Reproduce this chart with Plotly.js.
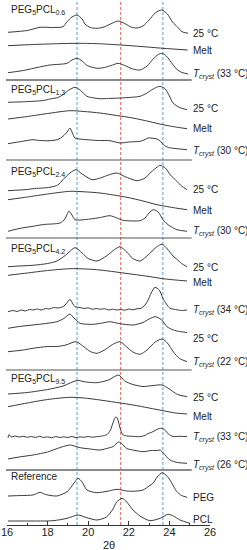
<!DOCTYPE html>
<html>
<head>
<meta charset="utf-8">
<script src="https://cdn.plot.ly/plotly-3.0.1.min.js"></script>
<style>
html,body{margin:0;padding:0;background:#fff;}
#chart{width:247px;height:550px;}
</style>
</head>
<body>
<div id="chart"></div>
<script>
// ---- Data (2θ in degrees, intensity in arbitrary units) ----
// PEG5PCL0.6
const x_06_25 = [16.05,17.0,17.63,18.3,18.76,18.96,19.2,19.45,19.7,19.84,20.1,20.43,20.73,21.1,21.47,21.8,22.1,22.4,22.7,23.0,23.3,23.62,23.9,24.15,24.4,24.62,24.92];
const i_06_25 = [1.7,3.5,6.7,6.5,7.3,12.3,17,19,15,10,6.5,5.7,6.7,10,13,10.5,7,6,8,14,21,24,20,12,7,2.3,0.7];
const x_06_melt = [16.05,17.3,18.5,19.45,20.5,21.6,22.6,23.68,24.9];
const i_06_melt = [5.3,6.5,7.3,7.7,7.3,6,4.5,2.7,1];
const x_06_t33 = [16.05,16.8,17.6,18.12,18.96,19.2,19.45,19.7,19.95,20.43,20.8,21.2,21.47,21.8,22.2,22.55,22.9,23.2,23.45,23.64,23.85,24.15,24.4,24.62,24.92];
const i_06_t33 = [2.3,4.5,8,10,11.7,15,16.7,14,9.5,6.7,7.5,10,11.7,9.5,6,5,9,16,20.5,21.7,19,11,5,2.5,1];
// PEG5PCL1.3
const x_13_25 = [16.05,16.8,17.28,17.8,18.12,18.5,18.76,19.05,19.35,19.6,19.94,20.3,20.58,21.0,21.57,22.0,22.55,22.9,23.2,23.54,23.8,24.0,24.18,24.5,24.87];
const i_13_25 = [7.7,8.2,8.7,9.5,11,12.5,15.3,20,22.7,20,13.7,12,11.3,11.5,12,12.5,13.7,17,21,23.7,21,14,7,2.5,0.3];
const x_13_melt = [16.05,17.0,18.0,19.1,19.8,20.58,21.4,22.2,23.0,23.68,24.3,24.87];
const i_13_melt = [10,12.5,15.5,18.3,17.5,16,13.5,11,7.5,4.3,2,0.3];
const x_13_t30 = [16.05,16.7,17.28,17.6,18.12,18.5,18.76,18.96,19.1,19.22,19.35,19.7,19.94,20.5,21.07,21.57,22.0,22.55,22.8,22.95,23.2,23.39,23.55,23.72,23.95,24.37,24.87];
const i_13_t30 = [6.3,8.5,10.3,9.5,9.3,10.5,13.7,18,22,17,12,10.7,10.3,9.5,9.3,7,8,8.7,10.5,12,11.7,11,9,5,2.5,1.3,0.3];
// PEG5PCL2.4
const x_24_25 = [16.05,17.0,17.28,18.12,18.5,18.76,19.1,19.4,19.7,20.19,20.6,21.0,21.42,21.8,22.4,22.8,23.1,23.4,23.54,23.8,24.05,24.37,24.6,24.87];
const i_24_25 = [0.3,1.5,2.3,3.7,6,11.3,18,21.3,17,11.3,13,16,18,14.5,10.3,13,19,24,25.7,23,16,9.7,5,1.3];
const x_24_melt = [16.05,17.0,18.0,19.1,19.8,20.58,21.91,22.7,23.39,24.3,24.87];
const i_24_melt = [10.3,13,16,18.7,18.2,17,12.7,9,5.3,2,0.3];
const x_24_t30 = [16.05,16.6,17.28,17.8,18.61,18.85,19.05,19.2,19.35,20.09,20.6,21.07,21.42,21.71,22.55,22.8,23.0,23.2,23.45,23.68,23.95,24.37,24.87];
const i_24_t30 = [0.7,3.5,5.7,7.5,9,13,20.7,17,12.3,13,14.5,16.3,14,11.7,11.3,14,19,22.3,20,12.3,7,2.3,0.7];
// PEG5PCL4.2
const x_42_25 = [16.05,16.6,17.28,18.0,18.46,18.9,19.35,19.7,20.0,20.43,20.9,21.3,21.57,21.9,22.2,22.55,23.0,23.4,23.64,23.9,24.18,24.37,24.6,24.87];
const i_42_25 = [0.3,1,1.7,3.5,6,12,19.3,14,8.5,6,11,17.5,20.3,15,8.5,6,13,20.5,22.7,18,11,7.7,3.5,0.3];
const x_42_melt = [16.05,17.0,18.0,19.1,19.9,20.58,22.21,23.0,23.68,24.3,24.87];
const i_42_melt = [6.2,8.5,11,12.8,12.5,11.5,7.2,5,2.8,1.5,0.5];
const x_42_t34 = [16.05,16.3,16.5,16.7,16.9,17.1,17.28,17.5,17.7,17.9,18.1,18.3,18.5,18.76,18.95,19.1,19.25,19.35,19.6,19.8,20.0,20.2,20.4,20.6,20.8,21.0,21.2,21.4,21.6,21.8,22.0,22.2,22.4,22.6,22.8,22.95,23.1,23.29,23.5,23.68,23.85,24.03,24.3,24.6,24.87];
const i_42_t34 = [0.3,1.5,0.5,2,1,2.5,2,3,2,3.5,3,4.5,4,5.3,9,12.7,8,5.3,4.5,3.5,4.2,2.7,3.5,2.7,3.3,2,2.8,2,2.5,1.8,3,2.2,3.2,3.7,7,12,19,24.7,22,13.7,8,3.7,2.5,1.5,2];
const x_42_25b = [16.05,16.6,17.28,17.9,18.46,18.8,19.1,19.3,19.6,20.24,20.7,21.07,21.5,22.21,22.7,23.0,23.29,23.6,23.88,24.2,24.5,24.87];
const i_42_25b = [4.7,6.5,8,9.5,11.3,14.5,19,15,9.7,8.7,10,11.3,9.5,8,10.5,14,16.3,13.5,6.3,3,1.5,0.5];
const x_42_t22 = [16.05,16.8,17.28,18.0,18.46,18.9,19.4,19.8,20.1,20.43,20.8,21.2,21.57,21.9,22.2,22.55,22.9,23.3,23.64,23.9,24.2,24.5,24.87];
const i_42_t22 = [10.3,12,13.7,15.5,15.5,17,20.3,15,10.5,8.7,12,17.5,20.3,15,10,7.7,12,20,23,19,10,3.5,0.3];
// PEG5PCL9.5
const x_95_25 = [16.05,17.0,18.0,18.76,19.45,19.9,20.43,21.0,21.5,21.8,22.2,22.7,23.2,23.64,24.0,24.4,24.87];
const i_95_25 = [3,4.5,7.5,11,16.5,15,14.3,17,22,16,12.5,10.5,11.5,12,8,2.5,0.3];
const x_95_melt = [16.05,17.0,18.0,19.1,19.8,20.58,22.21,23.0,23.68,24.3,24.87];
const i_95_melt = [7.8,11.5,15,17.2,16.5,14.5,9.5,6.5,3.8,1.5,0.5];
const x_95_t33 = [16.05,16.1,16.2,16.4,16.6,16.8,17.0,17.2,17.4,17.6,17.8,18.0,18.2,18.4,18.6,18.8,19.0,19.2,19.4,19.6,19.8,20.0,20.2,20.4,20.6,20.8,20.93,21.1,21.2,21.3,21.37,21.45,21.57,21.7,21.9,22.2,22.5,22.8,22.95,23.1,23.3,23.5,23.64,23.8,23.95,24.18,24.5,24.87];
const i_95_t33 = [0.3,3.5,1,2,1,1.7,0.7,1.5,0.5,1.7,0.5,1.2,0.2,1.5,0.5,1.2,0.5,1.5,0.3,1.2,0.7,1.5,0.8,1.3,1.7,2.5,3.5,8,14,19.5,21.3,19,10,3.5,2,1.7,1.3,2.5,4.5,5.5,7.5,9.5,9.7,7.5,4,1.5,1.7,1.3];
const x_95_t26 = [16.05,16.6,17.28,18.0,18.27,18.7,19.1,19.4,19.6,20.1,20.58,21.0,21.22,21.5,21.65,21.9,22.2,22.7,23.1,23.4,23.54,23.7,24.03,24.4,24.87];
const i_95_t26 = [5,7,9,12,14,17,19,17.5,16.3,15,14,16,17.3,22,20.5,15.5,14,12.3,13.5,13.5,14,11,4,1.5,0.7];
// Reference
const x_ref_peg = [16.05,16.7,17.28,17.63,17.9,18.46,18.96,19.2,19.5,19.7,19.94,20.43,21.0,21.42,21.9,22.3,22.7,23.0,23.19,23.4,23.64,23.88,24.03,24.37,24.6,24.87];
const i_ref_peg = [2,2.5,3,5.7,3.5,2,6.3,12,19.7,16,8,5.3,7,8.7,7,6.8,8,12,14.7,21,25.3,22,18,6.3,2.5,0.7];
const x_ref_pcl = [16.05,17.0,18.27,18.96,19.5,19.9,20.43,20.9,21.22,21.4,21.67,21.9,22.21,22.55,23.04,23.54,23.93,24.2,24.52,25.01];
const i_ref_pcl = [3,3,3.3,5.7,9,6.5,4,7,15,22,25.7,22,14,8,3.3,5.7,9.7,8,4,0.7];

// Curve labels
const TC = t => '<i>T</i><sub><i>cryst</i></sub> (' + t + ' °C)';
const curveLabels = ["25 °C","Melt",TC(33),
  "25 °C","Melt",TC(30),
  "25 °C","Melt",TC(30),
  "25 °C","Melt",TC(34),"25 °C",TC(22),
  "25 °C","Melt",TC(33),TC(26),
  "PEG","PCL"];
const SUB = s => '<sub><span style="font-size:7px">' + s + '</span></sub>';
const panelTitles = ["PEG"+SUB("5")+"PCL"+SUB("0.6"),"PEG"+SUB("5")+"PCL"+SUB("1.3"),"PEG"+SUB("5")+"PCL"+SUB("2.4"),
  "PEG"+SUB("5")+"PCL"+SUB("4.2"),"PEG"+SUB("5")+"PCL"+SUB("9.5"),"Reference"];
const xTicks = [16,18,20,22,24,26];
const xTitle = '2θ';

// ---- Layout helpers (stacking offsets, label positions) ----
const series = [
  [x_06_25,i_06_25],[x_06_melt,i_06_melt],[x_06_t33,i_06_t33],
  [x_13_25,i_13_25],[x_13_melt,i_13_melt],[x_13_t30,i_13_t30],
  [x_24_25,i_24_25],[x_24_melt,i_24_melt],[x_24_t30,i_24_t30],
  [x_42_25,i_42_25],[x_42_melt,i_42_melt],[x_42_t34,i_42_t34],[x_42_25b,i_42_25b],[x_42_t22,i_42_t22],
  [x_95_25,i_95_25],[x_95_melt,i_95_melt],[x_95_t33,i_95_t33],[x_95_t26,i_95_t26],
  [x_ref_peg,i_ref_peg],[x_ref_pcl,i_ref_pcl]
];
const H = 525;
const baseRows = [34,51,75, 110,129,150, 191,210,232, 267,281.5,312,333,362, 397,414.5,438,464, 498,524];
const labelRows = [33.5,50,74, 108,128.5,151.5, 189.5,210,231.7, 267.5,282.5,310.5,338,362, 397.3,416,437,465, 497.7,519.5];
const titleRows = [9.5,90,171.5,248.5,378.5,476];
const sepRows = [80,160,238,370,470];
const sepThick = [true,false,false,false,true];

const traces = series.map((s,k)=>({
  x: s[0],
  y: s[1].map(v=>v + (H - baseRows[k])),
  type:'scatter', mode:'lines',
  line:{color:'#3a3a3a', width:1, shape:'spline', smoothing:0.7},
  hoverinfo:'skip', showlegend:false
}));

const font = {family:'"Liberation Sans", Arial, sans-serif', size:10, color:'#222'};
const annotations = [];
curveLabels.forEach((t,k)=>annotations.push({
  x:25.05, y:H-labelRows[k], xref:'x', yref:'y', text:t, showarrow:false,
  xanchor:'left', yanchor:'middle', font:font
}));
panelTitles.forEach((t,k)=>annotations.push({
  x:16.1, y:H-titleRows[k], xref:'x', yref:'y', text:t, showarrow:false,
  xanchor:'left', yanchor:'middle', font:font
}));
annotations.push({x:21.03, y:-20/H, xref:'x', yref:'paper', text:xTitle, showarrow:false,
  xanchor:'center', yanchor:'middle', font:{family:font.family, size:11, color:'#222'}});

const shapes = [];
[[19.45,'#5b9fd6'],[21.6,'#e2655c'],[23.68,'#5b9fd6']].forEach(d=>shapes.push({
  type:'line', xref:'x', yref:'paper', x0:d[0], x1:d[0], y0:0, y1:1,
  line:{color:d[1], width:1, dash:'3px,2px'}, layer:'below'
}));
sepRows.forEach((r,k)=>shapes.push({
  type:'line', xref:'paper', yref:'y', x0:-0.005, x1:0.91, y0:H-r, y1:H-r,
  line:{color: sepThick[k] ? '#8a8a8a' : '#555', width: sepThick[k] ? 2 : 1}
}));

const layout = {
  width:247, height:550,
  margin:{l:7, r:37, t:0, b:25, pad:0},
  paper_bgcolor:'#fff', plot_bgcolor:'#fff',
  showlegend:false,
  xaxis:{range:[16,26], tickvals:xTicks, ticktext:xTicks.map(String), ticks:'inside', ticklen:4,
    tickcolor:'#333', showline:true, linecolor:'#333', linewidth:1, showgrid:false, zeroline:false,
    ticklabelstandoff:-3,
    minor:{dtick:1, tick0:16, ticks:'inside', ticklen:2, tickcolor:'#333'},
    tickfont:{family:font.family, size:11, color:'#222'}, fixedrange:true},
  yaxis:{range:[0,H], visible:false, fixedrange:true},
  annotations:annotations, shapes:shapes
};
Plotly.newPlot('chart', traces, layout, {staticPlot:true, displayModeBar:false});
</script>
</body>
</html>
